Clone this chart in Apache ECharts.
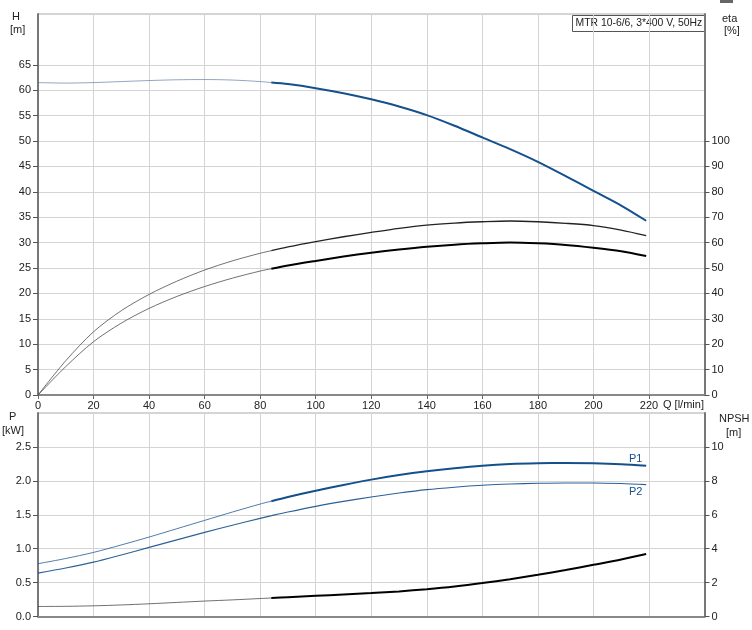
<!DOCTYPE html>
<html>
<head>
<meta charset="utf-8">
<script src="https://cdn.jsdelivr.net/npm/echarts@6/dist/echarts.min.js"></script>
<style>html,body{margin:0;padding:0;background:#fff}#c{width:752px;height:630px}</style>
</head>
<body>
<div id="c"></div>
<script>
// ---- data ----
const flowQ    = [0,10,20,30,40,50,60,70,80,84,90,100,110,120,130,140,150,160,170,180,190,200,210,219];
const headH    = [61.5,61.4,61.5,61.7,61.9,62.05,62.1,62.0,61.7,61.5,61.2,60.4,59.4,58.2,56.8,55.1,53.0,50.7,48.4,45.9,43.1,40.2,37.3,34.3];
const etaPump  = [0,13.5,24.9,33.2,39.6,44.8,49.2,52.8,55.8,56.8,58.3,60.4,62.3,64.0,65.6,66.9,67.7,68.2,68.5,68.2,67.6,66.7,64.9,62.7];
const etaTotal = [0,11.2,21.0,28.3,34.1,38.8,42.7,46.0,48.8,49.7,51.0,52.8,54.5,56.0,57.3,58.4,59.2,59.7,60.0,59.7,59.1,58.0,56.6,54.7];
const powerP1  = [0.778,0.855,0.945,1.055,1.171,1.294,1.417,1.540,1.658,1.700,1.762,1.855,1.940,2.018,2.085,2.141,2.187,2.224,2.248,2.259,2.263,2.259,2.246,2.224];
const powerP2  = [0.640,0.715,0.802,0.908,1.019,1.130,1.240,1.345,1.447,1.485,1.540,1.624,1.697,1.762,1.820,1.870,1.906,1.934,1.953,1.964,1.969,1.969,1.960,1.944];
const npsh     = [0.59,0.60,0.63,0.68,0.75,0.83,0.91,0.98,1.06,1.09,1.14,1.22,1.30,1.38,1.48,1.61,1.77,1.97,2.20,2.46,2.74,3.05,3.36,3.68];
const splitIdx = 9; // duty range starts at Q = 84
const xTicks   = [0,20,40,60,80,100,120,140,160,180,200,220];
const hTicks   = [0,5,10,15,20,25,30,35,40,45,50,55,60,65];
const etaTicks = [0,10,20,30,40,50,60,70,80,90,100];
const pTicks   = [0,0.5,1.0,1.5,2.0,2.5];
const npshTicks= [0,2,4,6,8,10];
const titleText = 'MTR 10-6/6, 3*400 V, 50Hz';

const pairs = (ys, a, b) => flowQ.slice(a, b).map((q, i) => [q, ys[a + i]]);
const thin = ys => pairs(ys, 0, splitIdx + 1);
const thick = ys => pairs(ys, splitIdx, flowQ.length);
const full = ys => pairs(ys, 0, flowQ.length);

const BLUE = '#14508c';
const FONT = 'Liberation Sans, Arial, sans-serif';
const lbl = {color:'#222', fontSize:11, fontFamily:FONT};

function xAx(gridIndex, showLabels){
  return {
    type:'value', gridIndex, min:0, max:240, interval:20,
    axisLine:{show:true, lineStyle:{color:'#888', width:2}},
    axisTick:{show:showLabels, length:4, lineStyle:{color:'#666'}, customValues: xTicks},
    axisLabel:{show:showLabels, margin:5, ...lbl, customValues: xTicks},
    splitLine:{show:true, lineStyle:{color:'#d4d4d4', width:1}}
  };
}
function yAx(gridIndex, pos, min, max, interval, ticks, split, fmt){
  return {
    type:'value', gridIndex, position:pos, min, max, interval,
    axisLine:{show:true, onZero:false, lineStyle:{color:'#777', width:2}},
    axisTick:{show:true, length:5, lineStyle:{color:'#555'}, customValues: ticks},
    axisLabel:{margin:7, ...lbl, customValues: ticks, formatter: fmt},
    splitLine:{show:split, lineStyle:{color:'#d4d4d4', width:1}}
  };
}
function line(name, data, xi, yi, color, width, opacity){
  return {name, type:'line', xAxisIndex:xi, yAxisIndex:yi, data, smooth:0.3, symbol:'none',
    lineStyle:{color, width, opacity:opacity==null?1:opacity}, silent:true, animation:false};
}
const txt = (left, top, text, fill, size) =>
  ({type:'text', left, top, style:{text, fill: fill || '#222', font:(size||11)+'px '+FONT}});

const chart = echarts.init(document.getElementById('c'), null, {renderer:'canvas'});
chart.setOption({
  animation:false,
  backgroundColor:'#fff',
  grid:[
    {left:38, top:14, width:666.5, height:381, show:true, borderColor:'#aaa', borderWidth:1, backgroundColor:'transparent'},
    {left:38, top:413, width:666.5, height:203.5, show:true, borderColor:'#aaa', borderWidth:1, backgroundColor:'transparent'}
  ],
  xAxis:[xAx(0,true), xAx(1,false)],
  yAxis:[
    yAx(0,'left',0,75,5,hTicks,true),
    yAx(0,'right',0,150,10,etaTicks,false),
    yAx(1,'left',0,3,0.5,pTicks,true, v => v.toFixed(1)),
    yAx(1,'right',0,12,2,npshTicks,false)
  ],
  series:[
    line('H thin', thin(headH), 0, 0, '#4a6a9a', 1, 0.6),
    line('H', thick(headH), 0, 0, BLUE, 2),
    line('eta pump thin', thin(etaPump), 0, 1, '#444', 0.9, 0.85),
    line('eta pump', thick(etaPump), 0, 1, '#222', 1.3),
    line('eta total thin', thin(etaTotal), 0, 1, '#444', 0.9, 0.85),
    line('eta total', thick(etaTotal), 0, 1, '#000', 2),
    line('P1 thin', thin(powerP1), 1, 2, BLUE, 1, 0.75),
    line('P1', thick(powerP1), 1, 2, BLUE, 2),
    line('P2', full(powerP2), 1, 2, BLUE, 1.1, 0.9),
    line('NPSH thin', thin(npsh), 1, 3, '#333', 1, 0.7),
    line('NPSH', thick(npsh), 1, 3, '#000', 2)
  ],
  graphic:[
    txt(12, 11, 'H'),
    txt(10, 24, '[m]'),
    txt(722, 13, 'eta'),
    txt(724, 25, '[%]'),
    txt(9, 411, 'P'),
    txt(2, 425, '[kW]'),
    txt(719, 413, 'NPSH'),
    txt(726, 427, '[m]'),
    txt(663, 399, 'Q [l/min]'),
    txt(629, 453, 'P1', BLUE),
    txt(629, 486, 'P2', BLUE),
    {type:'rect', left:720, top:0, shape:{width:13, height:3}, style:{fill:'#666'}},
    {type:'group', left:572, top:15, z:100, children:[
      {type:'rect', shape:{x:0, y:0, width:132, height:16}, style:{fill:'#fff', stroke:'#555', lineWidth:1}},
      {type:'text', left:3, top:2.5, style:{text:titleText, fill:'#222', font:'10.4px '+FONT}}
    ]}
  ]
});
</script>
</body>
</html>
